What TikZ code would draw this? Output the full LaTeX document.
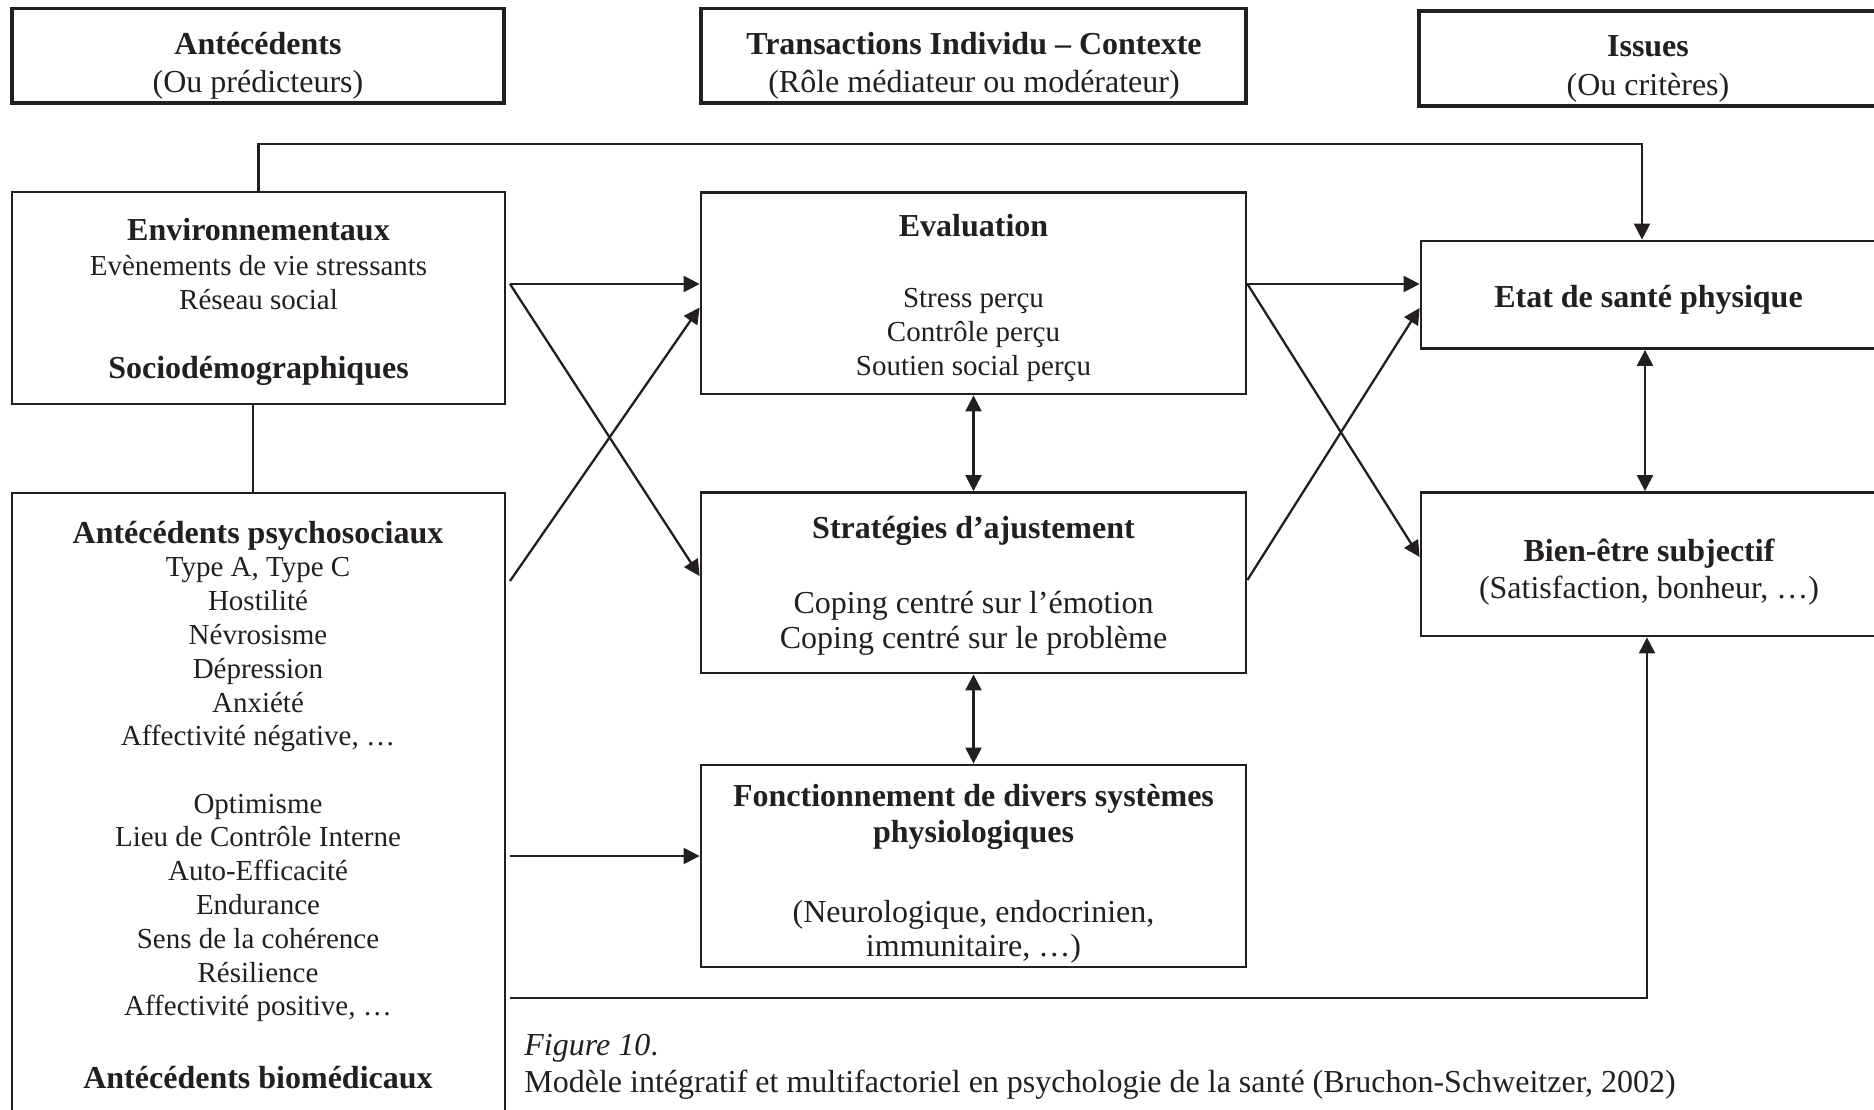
\documentclass[tikz,border=0pt]{standalone}
\usepackage{fontspec}
\setmainfont{Liberation Serif}
\usetikzlibrary{arrows.meta,fit,calc}
\definecolor{ink}{HTML}{231F20}
\tikzset{
  box/.style={draw=ink, line width=1.4pt, inner sep=0pt},
  hbox/.style={draw=ink, line width=1.7pt, inner sep=0pt},
  conn/.style={draw=ink, line width=1.15pt},
  arr/.style={conn, -{Triangle[length=8pt,width=8pt]}},
  darr/.style={conn, {Triangle[length=8pt,width=8pt]}-{Triangle[length=8pt,width=8pt]}},
  bf/.style={font=\fontsize{16}{19}\selectfont\bfseries, anchor=base, inner sep=0pt, text=ink},
  rg/.style={font=\fontsize{16}{19}\selectfont, anchor=base, inner sep=0pt, text=ink},
  sm/.style={font=\fontsize{14.5}{17}\selectfont, anchor=base, inner sep=0pt, text=ink},
  captxt/.style={font=\fontsize{16}{19}\selectfont, anchor=base west, inner sep=0pt, text=ink},
}
\begin{document}
\begin{tikzpicture}[x=0.5pt,y=-0.5pt]
\useasboundingbox (0,0) rectangle (1874,1109);
\fill[white] (0,0) rectangle (1874,1109);
\clip (0,0) rectangle (1874,1109);

% header boxes
\node[hbox, fit={(12,8.5) (504,103)}] (h1) {};
\node[hbox, fit={(701,8.5) (1246,103)}] (h2) {};
\node[hbox, fit={(1419,11) (1900,106)}] (h3) {};
\node[bf] (h1a) at (258,54) {Antécédents};
\node[rg] (h1b) at (258,92) {(Ou prédicteurs)};
\node[bf] (h2a) at (974,54) {Transactions Individu – Contexte};
\node[rg] (h2b) at (974,92) {(Rôle médiateur ou modérateur)};
\node[bf] (h3a) at (1648,56.5) {Issues};
\node[rg] (h3b) at (1648,95) {(Ou critères)};

% main boxes
\node[box, fit={(12,192) (505,404)}] (env) {};
\node[box, fit={(12,493) (505,1140)}] (psych) {};
\node[box, fit={(701,192.5) (1246,394)}] (eval) {};
\node[box, fit={(701,492.5) (1246,673)}] (strat) {};
\node[box, fit={(701,765) (1246,967)}] (fonct) {};
\node[box, fit={(1421,241) (1900,348.5)}] (etat) {};
\node[box, fit={(1421,492.5) (1900,636)}] (bien) {};

% env texts
\node[bf] (t1) at (258.5,240.7) {Environnementaux};
\node[sm] (t2) at (258.5,275) {Evènements de vie stressants};
\node[sm] (t3) at (258.5,309) {Réseau social};
\node[bf] (t4) at (258.5,378) {Sociodémographiques};

% psych texts
\node[bf] (p01) at (258,543.5) {Antécédents psychosociaux};
\node[sm] (p02) at (258,576.4) {Type A, Type C};
\node[sm] (p03) at (258,610.5) {Hostilité};
\node[sm] (p04) at (258,644.7) {Névrosisme};
\node[sm] (p05) at (258,678) {Dépression};
\node[sm] (p06) at (258,712) {Anxiété};
\node[sm] (p07) at (258,745) {Affectivité négative, …};
\node[sm] (p08) at (258,813) {Optimisme};
\node[sm] (p09) at (258,846.7) {Lieu de Contrôle Interne};
\node[sm] (p10) at (258,880) {Auto-Efficacité};
\node[sm] (p11) at (258,914.5) {Endurance};
\node[sm] (p12) at (258,948) {Sens de la cohérence};
\node[sm] (p13) at (258,982) {Résilience};
\node[sm] (p14) at (258,1015) {Affectivité positive, …};
\node[bf] (p15) at (258,1088) {Antécédents biomédicaux};

% eval texts
\node[bf] (v1) at (973.5,236) {Evaluation};
\node[sm] (v2) at (973.5,307.5) {Stress perçu};
\node[sm] (v3) at (973.5,341.4) {Contrôle perçu};
\node[sm] (v4) at (973.5,375.4) {Soutien social perçu};

% strat texts
\node[bf] (s1) at (973.5,538) {Stratégies d’ajustement};
\node[rg] (s2) at (973.5,613) {Coping centré sur l’émotion};
\node[rg] (s3) at (973.5,648.6) {Coping centré sur le problème};

% fonct texts
\node[bf] (f1) at (973.5,806) {Fonctionnement de divers systèmes};
\node[bf] (f2) at (973.5,842) {physiologiques};
\node[rg] (f3) at (973.5,922) {(Neurologique, endocrinien,};
\node[rg] (f4) at (973.5,956) {immunitaire, …)};

% right texts
\node[bf] (r1) at (1648.5,307.5) {Etat de santé physique};
\node[bf] (r2) at (1649,561) {Bien-être subjectif};
\node[rg] (r3) at (1649,598) {(Satisfaction, bonheur, …)};

% caption
\node[captxt] (c1) at (524,1055) {\textit{Figure 10}.};
\node[captxt] (c2) at (524,1092) {Modèle intégratif et multifactoriel en psychologie de la santé (Bruchon-Schweitzer, 2002)};

% connectors
\coordinate (e1) at (510,284);
\coordinate (pa) at (510,581);
\coordinate (pb) at (510,856);
\coordinate (pc) at (510,998);
\coordinate (topc) at (1642,144);
\coordinate (botc) at (1647,998);

\draw[arr] (env.north) |- (topc) -- (topc |- etat.north);
\draw[conn] ($(env.south)+(-5.5,0)$) -- ($(psych.north)+(-5.5,0)$);
\draw[arr] (e1) -- (eval.west |- e1);
\draw[arr] (e1) -- (strat.west |- 0,576);
\draw[arr] (pa) -- (eval.west |- 0,307.5);
\draw[arr] (pb) -- (fonct.west |- pb);
\draw[arr] (pc) -- (botc) -- (botc |- bien.south);
\draw[darr] (eval.south) -- (strat.north);
\draw[darr] (strat.south) -- (fonct.north);
\draw[arr] (eval.east |- e1) -- (etat.west |- e1);
\draw[arr] (eval.east |- e1) -- (bien.west |- 0,557);
\draw[arr] (strat.east |- 0,580) -- (etat.west |- 0,308);
\draw[darr] (etat.south -| 1645,0) -- (bien.north -| 1645,0);
\end{tikzpicture}
\end{document}
